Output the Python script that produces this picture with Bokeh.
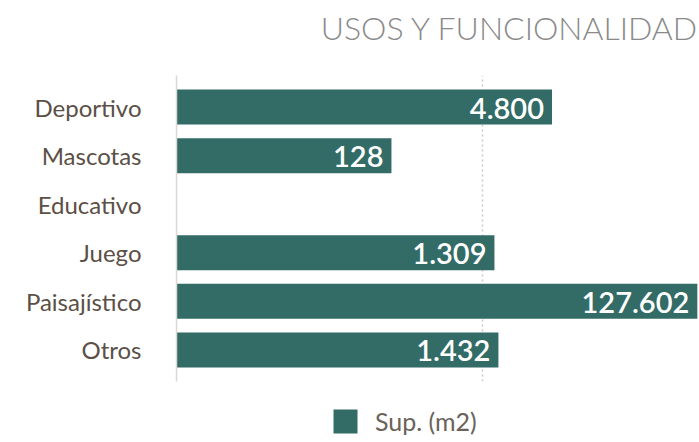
from bokeh.plotting import figure
from bokeh.layouts import column
from bokeh.models import (ColumnDataSource, FactorRange, Range1d, FixedTicker, Legend,
                          LegendItem, Title)
from bokeh.core.properties import value
from bokeh.embed import file_html
from bokeh.resources import INLINE

categories = ["Deportivo", "Mascotas", "Educativo", "Juego", "Paisajístico", "Otros"]
sup_m2 = [4800, 128, 0, 1309, 127602, 1432]
series_name = "Sup. (m2)"
title_text = "USOS Y FUNCIONALIDAD"

BAR = "#336b66"

cats_shown = [c for c, v in zip(categories, sup_m2) if v > 0]
vals_shown = [v for v in sup_m2 if v > 0]
labels = [f"{v:,}".replace(",", ".") for v in vals_shown]
src = ColumnDataSource(dict(cat=cats_shown, val=vals_shown, left=[1] * len(vals_shown), lab=labels))

p = figure(width=699, height=385, output_backend="svg", toolbar_location=None,
           x_axis_type="log", x_range=Range1d(1, 134000),
           y_range=FactorRange(factors=list(reversed(categories)), range_padding=0.15,
                               range_padding_units="absolute"),
           min_border_left=176, min_border_right=0, min_border_top=75, min_border_bottom=4)

r = p.hbar(y="cat", left="left", right="val", height=0.72, source=src,
           fill_color=BAR, line_color=None)
p.text(x="val", y="cat", text="lab", source=src, text_align="right", text_baseline="middle",
       x_offset=-8, y_offset=1, text_color="white", text_font=value("Lato Semibold"),
       text_font_size="29px", text_font_style="normal")

# small spacer between the title and the frame, then the title itself
p.add_layout(Title(text=" ", text_font_size="1px", standoff=17, vertical_align="top"), "above")
p.add_layout(Title(text=title_text, align="right", vertical_align="top", standoff=14,
                   offset=0, text_font="Lato Light", text_font_style="normal",
                   text_font_size="32px", text_color="#8a8a8a"), "above")

p.xaxis.visible = False
p.xgrid.ticker = FixedTicker(ticks=[1000])
p.xgrid.grid_line_color = "#cdc8c2"
p.xgrid.grid_line_dash = "2 3"
p.xgrid.grid_line_width = 1.5
p.ygrid.visible = False

p.yaxis.axis_line_color = "#dcd8d3"
p.yaxis.axis_line_width = 1.5
p.yaxis.major_tick_line_color = None
p.yaxis.minor_tick_line_color = None
p.yaxis.major_tick_out = 0
p.yaxis.major_label_standoff = 35
p.yaxis.major_label_text_font = "Lato"
p.yaxis.major_label_text_font_size = "24px"
p.yaxis.major_label_text_color = "#5b4f46"

p.outline_line_color = None

# legend strip under the chart (its bars sit outside its visible x range)
leg = figure(width=699, height=57, output_backend="svg", toolbar_location=None,
             x_range=Range1d(-2, -1), y_range=FactorRange(factors=list(reversed(categories))),
             min_border_left=176, min_border_right=0, min_border_top=0, min_border_bottom=0)
leg.axis.visible = False
leg.grid.visible = False
leg.outline_line_color = None
r2 = leg.hbar(y="cat", left="left", right="val", height=0.72, source=src,
              fill_color=BAR, line_color=None)

legend = Legend(items=[LegendItem(label=series_name, renderers=[r2])],
                location=(154, 6), orientation="horizontal",
                glyph_width=30, glyph_height=30, label_standoff=15,
                label_text_font="Lato", label_text_font_size="25px", label_text_color="#6b625a",
                border_line_color=None, background_fill_alpha=0, padding=0, margin=0, spacing=0,
                label_height=30)
leg.add_layout(legend, "center")

layout = column(p, leg, spacing=0)
open("out.html", "w").write(file_html(layout, INLINE))
